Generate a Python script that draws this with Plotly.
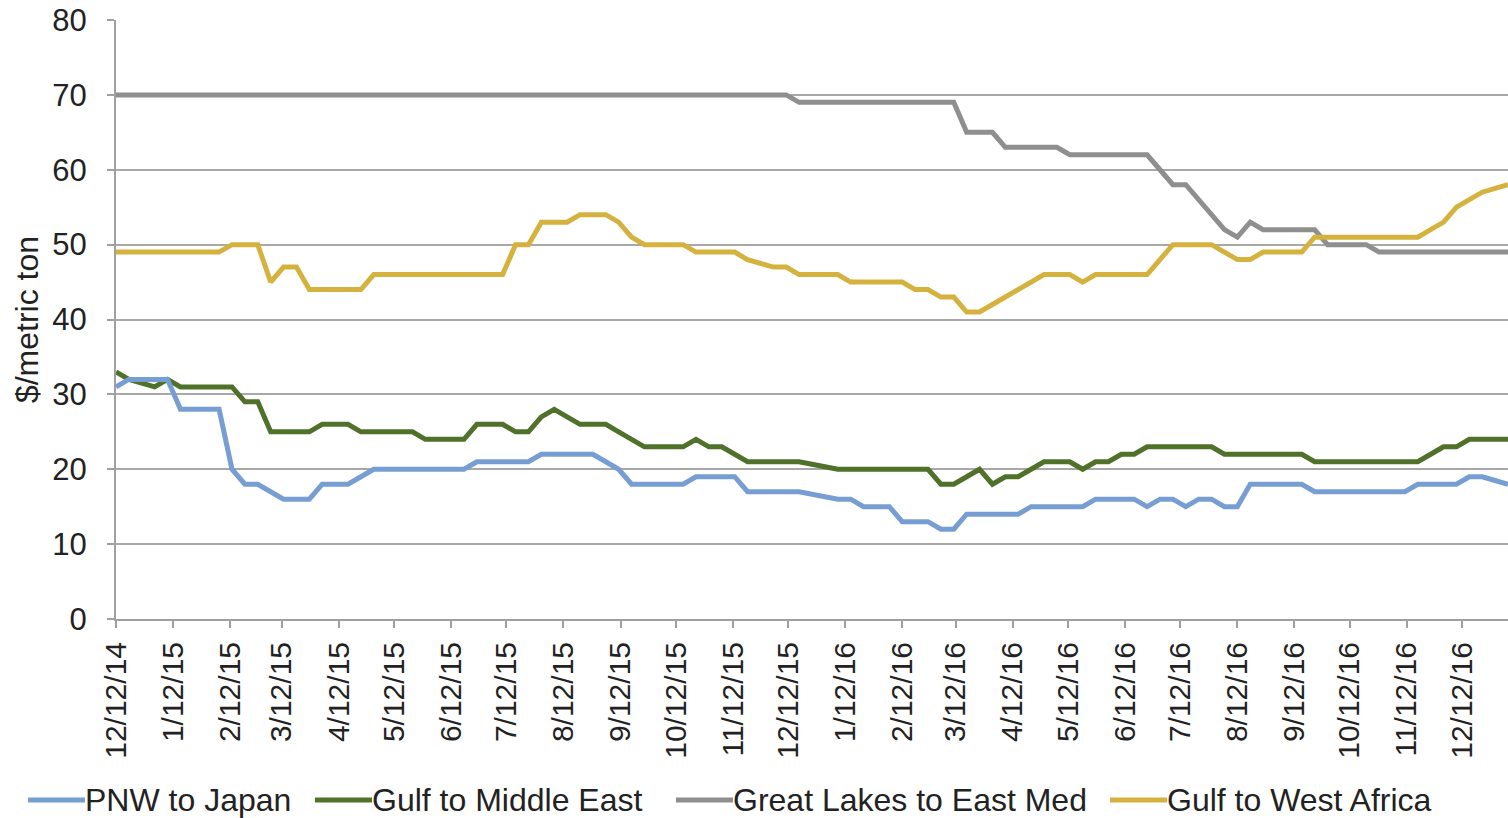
import pandas as pd
import plotly.graph_objects as go

# Weekly ocean freight rates, $/metric ton, starting Friday 12 Dec 2014
start_date = "2014-12-12"
n_weeks = 109
dates = pd.date_range(start_date, periods=n_weeks, freq="7D")

pnw_japan = (
    [31] + [32] * 4 + [28] * 4 + [20] + [18] * 2 + [17] + [16] * 3 + [18] * 3 + [19]
    + [20] * 8 + [21] * 5 + [22] * 5 + [21] + [20] + [18] * 5 + [19] * 4 + [17] * 5
    + [16.67, 16.33] + [16] * 2 + [15] * 3 + [13] * 3 + [12] * 2 + [14] * 5 + [15] * 5
    + [16] * 4 + [15] + [16] * 2 + [15] + [16] * 2 + [15] * 2 + [18] * 5 + [17] * 8
    + [18] * 4 + [19] * 2 + [18.5] + [18]
)

gulf_middle_east = (
    [33, 32, 31.5, 31, 32] + [31] * 5 + [29] * 2 + [25] * 4 + [26] * 3 + [25] * 5
    + [24] * 4 + [26] * 3 + [25] * 2 + [27, 28, 27] + [26] * 3 + [25, 24] + [23] * 4
    + [24] + [23] * 2 + [22] + [21] * 5 + [20.67, 20.33] + [20] * 8 + [18] * 2
    + [19, 20, 18] + [19] * 2 + [20] + [21] * 3 + [20] + [21] * 2 + [22] * 2 + [23] * 6
    + [22] * 7 + [21] * 9 + [22] + [23] * 2 + [24] * 4
)

great_lakes_east_med = (
    [70] * 53 + [69] * 13 + [65] * 3 + [63] * 5 + [62] * 7 + [60] + [58] * 2
    + [56, 54, 52, 51, 53] + [52] * 5 + [50] * 4 + [49] * 11
)

gulf_west_africa = (
    [49] * 9 + [50] * 3 + [45] + [47] * 2 + [44] * 5 + [46] * 11 + [50] * 2 + [53] * 3
    + [54] * 3 + [53, 51] + [50] * 4 + [49] * 4 + [48, 47.5] + [47] * 2 + [46] * 4
    + [45] * 5 + [44] * 2 + [43] * 2 + [41] * 2 + [42, 43, 44, 45] + [46] * 3 + [45]
    + [46] * 5 + [48] + [50] * 4 + [49] + [48] * 2 + [49] * 4 + [51] * 9
    + [52, 53, 55, 56, 57, 57.5, 58]
)

series_names = ["PNW to Japan", "Gulf to Middle East", "Great Lakes to East Med", "Gulf to West Africa"]
series_values = [pnw_japan, gulf_middle_east, great_lakes_east_med, gulf_west_africa]
series_colors = ["#779ED3", "#4F7129", "#8F8F8F", "#D5B23E"]

y_tick_values = [0, 10, 20, 30, 40, 50, 60, 70, 80]

FONT = "Liberation Sans, Arial, sans-serif"
TEXT_COLOR = "#222222"
W, H = 1508, 818
ML, MR, MT, MB = 116, 0, 20, 199

fig = go.Figure()
# draw order: grey and gold first, then green and blue on top
for idx in [2, 3, 1, 0]:
    fig.add_trace(go.Scatter(
        x=dates, y=series_values[idx], mode="lines", name=series_names[idx],
        line=dict(color=series_colors[idx], width=5), hoverinfo="x+y+name",
    ))

fig.update_layout(
    width=W, height=H,
    margin=dict(l=ML, r=MR, t=MT, b=MB, pad=0),
    paper_bgcolor="white", plot_bgcolor="white",
    showlegend=False,
    font=dict(family=FONT, size=31, color=TEXT_COLOR),
)

fig.update_xaxes(
    type="date",
    range=[dates[0], dates[-1]],
    tick0=start_date, dtick="M1", tickformat="%-m/%d/%y",
    tickangle=-90, tickfont=dict(size=30, family=FONT, color=TEXT_COLOR),
    ticks="outside", ticklen=7, tickwidth=2, tickcolor="#A0A0A0",
    ticklabelstandoff=2,
    showline=True, linecolor="#A0A0A0", linewidth=2,
    showgrid=False, zeroline=False,
)

fig.update_yaxes(
    range=[0, 80], tickvals=y_tick_values,
    tickfont=dict(size=31, family=FONT, color=TEXT_COLOR),
    ticks="outside", ticklen=7, tickwidth=2, tickcolor="#A0A0A0",
    ticklabelstandoff=14,
    showline=True, linecolor="#A0A0A0", linewidth=2,
    showgrid=True, gridcolor="#A8A8A8", gridwidth=2,
    zeroline=False,
    title=dict(text="$/metric ton", font=dict(size=32, family=FONT, color=TEXT_COLOR), standoff=4),
)

# Legend row along the bottom
legend_items = [
    (series_names[0], series_colors[0], 28, 85),
    (series_names[1], series_colors[1], 315, 372),
    (series_names[2], series_colors[2], 676, 733),
    (series_names[3], series_colors[3], 1110, 1167),
]
legend_y = 800
plot_w = W - ML - MR
plot_h = H - MT - MB
y_leg = -(legend_y - (H - MB)) / plot_h
for name, color, x0, x1 in legend_items:
    fig.add_shape(
        type="line", xref="paper", yref="paper",
        x0=(x0 - ML) / plot_w, x1=(x1 - ML) / plot_w,
        y0=y_leg, y1=y_leg,
        line=dict(color=color, width=5),
    )
    fig.add_annotation(
        xref="paper", yref="paper",
        x=(x1 - 2 - ML) / plot_w, y=y_leg,
        text=name, showarrow=False, xanchor="left", yanchor="middle",
        font=dict(size=32, family=FONT, color=TEXT_COLOR),
    )

fig.write_html("out.html")
